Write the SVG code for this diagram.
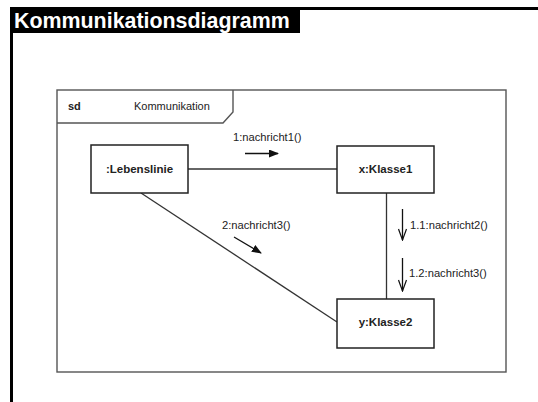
<svg xmlns="http://www.w3.org/2000/svg" width="538" height="402" viewBox="0 0 538 402">
  <style>
    .title { font-family: "Liberation Sans", Arial, sans-serif; font-size: 21.4px; font-weight: bold; fill: #ffffff; }
    .frame { fill: none; stroke: #555555; stroke-width: 1.4; }
    .box { fill: #ffffff; stroke: #222222; stroke-width: 1.5; }
    .name { font-family: "Liberation Sans", Arial, sans-serif; font-size: 11.5px; font-weight: bold; fill: #222222; text-anchor: middle; }
    .hdr { font-family: "Liberation Sans", Arial, sans-serif; font-size: 11px; fill: #222222; }
    .msg { font-family: "Liberation Sans", Arial, sans-serif; font-size: 11.2px; fill: #222222; }
    .link { stroke: #333333; stroke-width: 1.3; fill: none; }
    .arrow { stroke: #111111; stroke-width: 1.3; fill: none; }
  </style>
  <defs>
    <marker id="filled" markerWidth="10" markerHeight="8" refX="9" refY="4" orient="auto" markerUnits="userSpaceOnUse">
      <path d="M0,0 L10,4 L0,8 Z" fill="#111111"/>
    </marker>
    <marker id="open" markerWidth="10" markerHeight="14" refX="5" refY="13" orient="0" markerUnits="userSpaceOnUse">
      <path d="M1,2 L5,13 L9,2" fill="none" stroke="#111111" stroke-width="1.2"/>
    </marker>
  </defs>

  <rect width="538" height="402" fill="#ffffff"/>

  <!-- page heading bar and margins -->
  <g id="heading">
    <rect x="10" y="7" width="528" height="3" fill="#000000"/>
    <rect x="10" y="7" width="290" height="26" fill="#000000"/>
    <rect x="10" y="7" width="3" height="395" fill="#000000"/>
    <text class="title" x="14" y="28">Kommunikationsdiagramm</text>
  </g>

  <!-- sd frame with name tab -->
  <g id="frame">
    <rect class="frame" x="57" y="90" width="449" height="282"/>
    <path class="frame" d="M57,123 H223 L233,112 V90"/>
    <text class="hdr" x="68" y="110" font-weight="bold">sd</text>
    <text class="hdr" x="134" y="110">Kommunikation</text>
  </g>

  <!-- links and messages -->
  <g id="connectors">
    <line class="link" x1="188" y1="169" x2="337" y2="169"/>
    <line class="link" x1="386.5" y1="193" x2="386.5" y2="299"/>
    <line class="link" x1="141" y1="193" x2="337" y2="322"/>

    <line class="arrow" x1="245" y1="153.5" x2="278" y2="153.5" marker-end="url(#filled)"/>
    <text class="msg" x="233" y="141">1:nachricht1()</text>

    <line class="arrow" x1="234" y1="237" x2="261" y2="253" marker-end="url(#filled)"/>
    <text class="msg" x="222" y="229">2:nachricht3()</text>

    <line class="arrow" x1="402.5" y1="209" x2="402.5" y2="240" marker-end="url(#open)"/>
    <text class="msg" x="410" y="229">1.1:nachricht2()</text>

    <line class="arrow" x1="402.5" y1="258" x2="402.5" y2="291" marker-end="url(#open)"/>
    <text class="msg" x="409" y="277">1.2:nachricht3()</text>
  </g>

  <g id="lebenslinie">
    <rect class="box" x="91" y="145" width="97" height="48"/>
    <text class="name" x="139.5" y="173">:Lebenslinie</text>
  </g>

  <g id="klasse1">
    <rect class="box" x="337" y="146" width="97" height="47"/>
    <text class="name" x="385.5" y="173">x:Klasse1</text>
  </g>

  <g id="klasse2">
    <rect class="box" x="337" y="299" width="97" height="49"/>
    <text class="name" x="385.5" y="326">y:Klasse2</text>
  </g>
</svg>
